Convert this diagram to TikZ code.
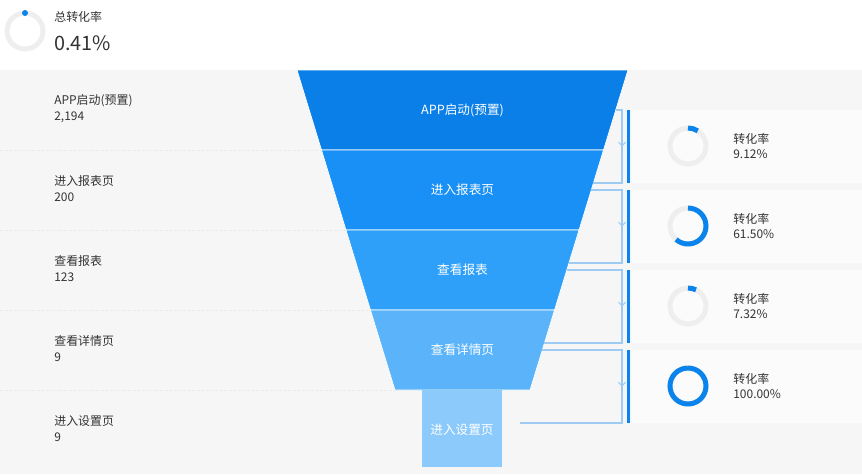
\documentclass[tikz,border=0pt]{standalone}
\usepackage{fontspec}
\setmainfont{Noto Sans CJK SC}
\usetikzlibrary{arrows.meta,calc}
\definecolor{bgGray}{HTML}{F6F6F6}
\definecolor{ringGray}{HTML}{EEEEEE}
\definecolor{ringBlue}{HTML}{0A84EC}
\definecolor{segA}{HTML}{0A7FE8}
\definecolor{segB}{HTML}{1890F5}
\definecolor{segC}{HTML}{2EA0FA}
\definecolor{segD}{HTML}{5BB4FA}
\definecolor{segE}{HTML}{8CCAFB}
\definecolor{linkBlue}{HTML}{9DCBF3}
\definecolor{txtGray}{HTML}{333333}
\begin{document}
\begin{tikzpicture}[x=0.02cm, y=-0.02cm,
    lbl/.style={font=\fontsize{6.8}{8}\selectfont, text=txtGray, anchor=west, inner sep=0pt},
    seglbl/.style={font=\fontsize{7.2}{9}\selectfont, text=white, inner sep=0pt},
    ring/.style={line width=0.1cm, ringGray},
    ringarc/.style={line width=0.1cm, ringBlue},
    link/.style={linkBlue, line width=0.6pt},
    bar/.style={ringBlue, line width=0.06cm}
]
    \useasboundingbox (0,0) rectangle (862,474);
    % Background
    \fill[bgGray] (0,70) rectangle (862,474);
    \foreach \y in {150,230,310,390}
        \draw[gray!20, densely dotted] (0,\y) -- (460,\y);

    % Total rate
    \draw[ring] (25,31) circle[radius=18];
    \fill[ringBlue] (25,13) circle[radius=3];
    \node[lbl] (totname) at (54,17) {总转化率};
    \node[lbl, font=\fontsize{11.3}{13}\selectfont] (totval) at (54,43) {0.41\%};

    % Funnel
    \foreach \c/\t/\b/\name/\txt in {segA/70/150/s1/APP启动(预置), segB/150/230/s2/进入报表页,
        segC/230/310/s3/查看报表, segD/310/390/s4/查看详情页} {
        \fill[\c, draw=white, line width=0.4pt] ({297+(\t-70)*0.306},\t) -- ({628-(\t-70)*0.306},\t)
            -- ({628-(\b-70)*0.306},\b) -- ({297+(\b-70)*0.306},\b) -- cycle;
        \node[seglbl] (\name) at (462.5,{(\t+\b)/2}) {\txt};
    }
    \fill[segE] (422,390) rectangle (502,467);
    \node[seglbl] (s5) at (462,430) {进入设置页};

    % Left labels
    \foreach \i/\txt/\num in {0/APP启动(预置)/{2,194}, 1/进入报表页/200, 2/查看报表/123, 3/查看详情页/9, 4/进入设置页/9} {
        \node[lbl] (name\i) at (54,{101+80*\i}) {\txt};
        \node[lbl] (num\i) at (54,{117+80*\i}) {\num};
    }

    % Conversion links and rates
    \foreach \k/\p/\val in {0/0.0912/9.12\%, 1/0.615/61.50\%, 2/0.0732/7.32\%, 3/0.999/100.00\%} {
        \coordinate (lt\k) at ({628-(110+80*\k-70)*0.306},{110+80*\k});
        \coordinate (rt\k) at (622,{110+80*\k});
        \coordinate (rb\k) at (622,{183+80*\k});
        \coordinate (lb\k) at ({max(502,628-(183+80*\k-70)*0.306)},{183+80*\k});
        \draw[link] (lt\k) -- (rt\k) -- (rb\k) -- (lb\k);
        \draw[link, -{Straight Barb[length=2pt, width=4pt]}] (rt\k) -- ($(rt\k)!0.5!(rb\k)$);
        \fill[white!60!bgGray] (632,{110+80*\k}) rectangle (862,{183+80*\k});
        \draw[bar] (628,{110+80*\k}) -- (628,{183+80*\k});
        \draw[ring] (688,{146+80*\k}) circle[radius=18];
        \draw[ringarc] (688,{128+80*\k}) arc[start angle=-90, end angle={-90+360*\p}, radius=18];
        \node[lbl] (rname\k) at (733,{139+80*\k}) {转化率};
        \node[lbl] (rval\k) at (733,{154+80*\k}) {\val};
    }
\end{tikzpicture}
\end{document}
